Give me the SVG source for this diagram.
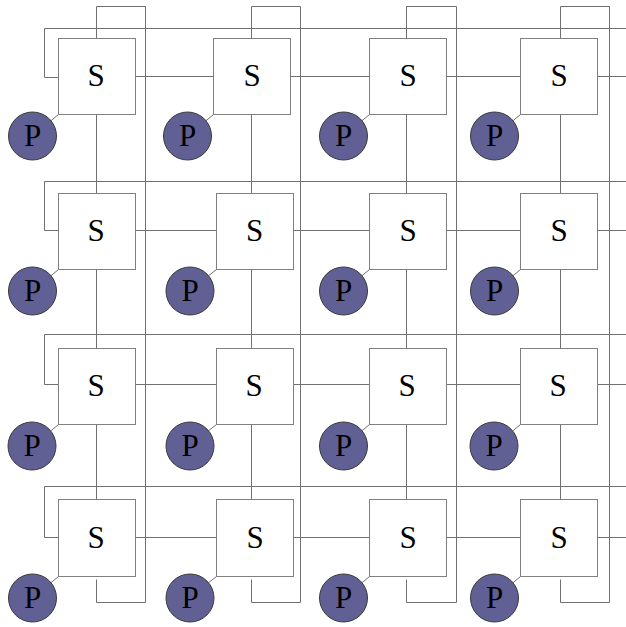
<svg xmlns="http://www.w3.org/2000/svg" width="626" height="627" viewBox="0 0 626 627">
  <style>
    .sw rect { fill: #ffffff; stroke: #808080; stroke-width: 1; }
    .pe circle { fill: #606094; stroke: #3a3a3a; stroke-width: 1; }
    text { font-family: "Liberation Serif", "Times New Roman", serif; font-size: 31px; fill: #000000; text-anchor: middle; }
    #links path, #links line { fill: none; stroke: #707070; stroke-width: 1; }
  </style>

  <!-- connectors: mesh links, torus wrap-arounds and processor attachments -->
  <g id="links">
    <!-- horizontal links between neighbouring switches -->
    <line x1="135.5" y1="76.5" x2="213.5" y2="76.5"/>
    <line x1="290.5" y1="76.5" x2="369.5" y2="76.5"/>
    <line x1="446.5" y1="76.5" x2="520.5" y2="76.5"/>
    <line x1="135.5" y1="230.5" x2="216.5" y2="230.5"/>
    <line x1="293.5" y1="230.5" x2="369.5" y2="230.5"/>
    <line x1="446.5" y1="230.5" x2="520.5" y2="230.5"/>
    <line x1="135.5" y1="384.5" x2="216.5" y2="384.5"/>
    <line x1="293.5" y1="384.5" x2="369.5" y2="384.5"/>
    <line x1="446.5" y1="384.5" x2="520.5" y2="384.5"/>
    <line x1="135.5" y1="537.5" x2="216.5" y2="537.5"/>
    <line x1="293.5" y1="537.5" x2="369.5" y2="537.5"/>
    <line x1="446.5" y1="537.5" x2="520.5" y2="537.5"/>

    <!-- row wrap-arounds -->
    <path d="M58.5 77.5 H44.5 V28.5 H626"/>
    <path d="M597.5 76.5 H626"/>
    <path d="M58.5 230.5 H44.5 V181.5 H626"/>
    <path d="M597.5 230.5 H626"/>
    <path d="M58.5 384.5 H44.5 V334.5 H626"/>
    <path d="M597.5 384.5 H626"/>
    <path d="M58.5 537.5 H44.5 V486.5 H626"/>
    <path d="M597.5 537.5 H626"/>

    <!-- vertical links between neighbouring switches -->
    <line x1="96.5" y1="114.5" x2="96.5" y2="193.5"/>
    <line x1="96.5" y1="269.5" x2="96.5" y2="348.5"/>
    <line x1="96.5" y1="424.5" x2="96.5" y2="499.5"/>
    <line x1="251.5" y1="114.5" x2="251.5" y2="193.5"/>
    <line x1="251.5" y1="269.5" x2="251.5" y2="348.5"/>
    <line x1="251.5" y1="424.5" x2="251.5" y2="499.5"/>
    <line x1="406.5" y1="114.5" x2="406.5" y2="193.5"/>
    <line x1="406.5" y1="269.5" x2="406.5" y2="348.5"/>
    <line x1="406.5" y1="424.5" x2="406.5" y2="499.5"/>
    <line x1="560.5" y1="114.5" x2="560.5" y2="193.5"/>
    <line x1="560.5" y1="269.5" x2="560.5" y2="348.5"/>
    <line x1="560.5" y1="424.5" x2="560.5" y2="499.5"/>

    <!-- column wrap-arounds -->
    <path d="M96.5 38.5 V6.5 H145.5 V602.5 H96.5 V579.5"/>
    <path d="M251.5 38.5 V6.5 H300.5 V602.5 H251.5 V579.5"/>
    <path d="M406.5 38.5 V6.5 H456.5 V602.5 H406.5 V579.5"/>
    <path d="M560.5 38.5 V6.5 H609.5 V602.5 H560.5 V579.5"/>

    <!-- processor to switch attachments -->
    <line x1="58.5" y1="114.5" x2="51" y2="120.7"/>
    <line x1="213.5" y1="114.5" x2="206" y2="120.7"/>
    <line x1="369.5" y1="114.5" x2="362" y2="120.7"/>
    <line x1="520.5" y1="114.5" x2="513" y2="120.7"/>
    <line x1="58.5" y1="269.5" x2="51" y2="275.7"/>
    <line x1="216.5" y1="269.5" x2="208.5" y2="275.7"/>
    <line x1="369.5" y1="269.5" x2="362" y2="275.7"/>
    <line x1="520.5" y1="269.5" x2="513" y2="275.7"/>
    <line x1="58.5" y1="424.5" x2="51" y2="430.7"/>
    <line x1="216.5" y1="424.5" x2="208.5" y2="430.7"/>
    <line x1="369.5" y1="424.5" x2="362" y2="430.7"/>
    <line x1="520.5" y1="424.5" x2="513" y2="430.7"/>
    <line x1="58.5" y1="576.5" x2="51" y2="582.7"/>
    <line x1="216.5" y1="576.5" x2="208.5" y2="582.7"/>
    <line x1="369.5" y1="576.5" x2="362" y2="582.7"/>
    <line x1="520.5" y1="576.5" x2="513" y2="582.7"/>
  </g>

  <!-- switches -->
  <g id="s11" class="sw"><rect x="58.5" y="38.5" width="77" height="76"/><text x="96" y="86">S</text></g>
  <g id="s12" class="sw"><rect x="213.5" y="38.5" width="77" height="76"/><text x="252" y="86">S</text></g>
  <g id="s13" class="sw"><rect x="369.5" y="38.5" width="77" height="76"/><text x="408" y="86">S</text></g>
  <g id="s14" class="sw"><rect x="520.5" y="38.5" width="77" height="76"/><text x="559" y="86">S</text></g>

  <g id="s21" class="sw"><rect x="58.5" y="193.5" width="77" height="76"/><text x="96" y="241">S</text></g>
  <g id="s22" class="sw"><rect x="216.5" y="193.5" width="77" height="76"/><text x="254.5" y="241">S</text></g>
  <g id="s23" class="sw"><rect x="369.5" y="193.5" width="77" height="76"/><text x="408" y="241">S</text></g>
  <g id="s24" class="sw"><rect x="520.5" y="193.5" width="77" height="76"/><text x="559" y="241">S</text></g>

  <g id="s31" class="sw"><rect x="58.5" y="348.5" width="77" height="76"/><text x="96" y="396">S</text></g>
  <g id="s32" class="sw"><rect x="216.5" y="348.5" width="77" height="76"/><text x="254" y="396">S</text></g>
  <g id="s33" class="sw"><rect x="369.5" y="348.5" width="77" height="76"/><text x="407" y="396">S</text></g>
  <g id="s34" class="sw"><rect x="520.5" y="348.5" width="77" height="76"/><text x="558" y="396">S</text></g>

  <g id="s41" class="sw"><rect x="58.5" y="499.5" width="77" height="77"/><text x="96" y="548">S</text></g>
  <g id="s42" class="sw"><rect x="216.5" y="499.5" width="77" height="77"/><text x="255" y="548">S</text></g>
  <g id="s43" class="sw"><rect x="369.5" y="499.5" width="77" height="77"/><text x="408" y="548">S</text></g>
  <g id="s44" class="sw"><rect x="520.5" y="499.5" width="77" height="77"/><text x="559" y="548">S</text></g>

  <!-- processors -->
  <g id="p11" class="pe"><circle cx="32.5" cy="136" r="24"/><text x="32.5" y="146">P</text></g>
  <g id="p12" class="pe"><circle cx="187.5" cy="136" r="24"/><text x="187.5" y="146">P</text></g>
  <g id="p13" class="pe"><circle cx="343.5" cy="136" r="24"/><text x="343.5" y="146">P</text></g>
  <g id="p14" class="pe"><circle cx="494.5" cy="136" r="24"/><text x="494.5" y="146">P</text></g>

  <g id="p21" class="pe"><circle cx="32.5" cy="291" r="24"/><text x="32.5" y="301">P</text></g>
  <g id="p22" class="pe"><circle cx="190" cy="291" r="24"/><text x="190" y="301">P</text></g>
  <g id="p23" class="pe"><circle cx="343.5" cy="291" r="24"/><text x="343.5" y="301">P</text></g>
  <g id="p24" class="pe"><circle cx="494.5" cy="291" r="24"/><text x="494.5" y="301">P</text></g>

  <g id="p31" class="pe"><circle cx="32" cy="446" r="24"/><text x="32" y="456">P</text></g>
  <g id="p32" class="pe"><circle cx="190" cy="446" r="24"/><text x="190" y="456">P</text></g>
  <g id="p33" class="pe"><circle cx="343.5" cy="446" r="24"/><text x="343.5" y="456">P</text></g>
  <g id="p34" class="pe"><circle cx="494" cy="446" r="24"/><text x="494" y="456">P</text></g>

  <g id="p41" class="pe"><circle cx="32.5" cy="598" r="24"/><text x="32.5" y="608">P</text></g>
  <g id="p42" class="pe"><circle cx="190" cy="598" r="24"/><text x="190" y="608">P</text></g>
  <g id="p43" class="pe"><circle cx="343.5" cy="598" r="24"/><text x="343.5" y="608">P</text></g>
  <g id="p44" class="pe"><circle cx="494.5" cy="598" r="24"/><text x="494.5" y="608">P</text></g>
</svg>
